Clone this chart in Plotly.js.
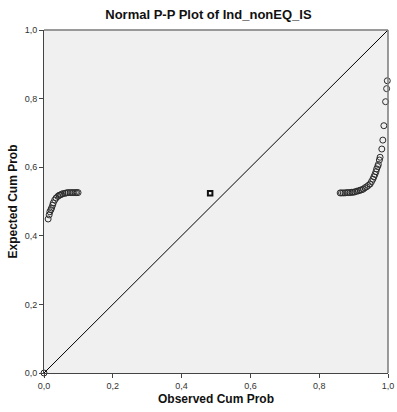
<!DOCTYPE html>
<html><head><meta charset="utf-8">
<script src="https://cdn.plot.ly/plotly-3.0.1.min.js"></script>
<style>html,body{margin:0;padding:0;background:#fff}#chart{width:397px;height:412px}</style>
</head><body><div id="chart"></div>
<script>
// Observed cumulative probability (x) and expected cumulative probability (y)
const obsLeft = [0.000, 0.012, 0.015, 0.017, 0.020, 0.022, 0.025, 0.027, 0.031, 0.035, 0.040, 0.044, 0.047, 0.051, 0.055, 0.061, 0.065, 0.070, 0.076, 0.081, 0.086, 0.091, 0.095, 0.099];
const expLeft = [0.000, 0.449, 0.461, 0.470, 0.476, 0.481, 0.489, 0.496, 0.504, 0.510, 0.515, 0.518, 0.519, 0.521, 0.523, 0.524, 0.525, 0.526, 0.526, 0.526, 0.526, 0.526, 0.526, 0.526];
const obsMid = [0.483];
const expMid = [0.524];
const obsRight = [0.861, 0.865, 0.870, 0.875, 0.880, 0.885, 0.890, 0.895, 0.899, 0.904, 0.909, 0.914, 0.919, 0.923, 0.928, 0.933, 0.938, 0.943, 0.948, 0.952, 0.956, 0.959, 0.962, 0.965, 0.967, 0.970, 0.972, 0.975, 0.977, 0.982, 0.985, 0.988, 0.993, 0.996, 0.998];
const expRight = [0.525, 0.525, 0.525, 0.525, 0.526, 0.526, 0.526, 0.527, 0.527, 0.528, 0.530, 0.531, 0.533, 0.534, 0.536, 0.540, 0.543, 0.547, 0.551, 0.558, 0.565, 0.572, 0.579, 0.587, 0.595, 0.602, 0.608, 0.621, 0.629, 0.653, 0.679, 0.721, 0.791, 0.829, 0.852];
const refLineX = [0, 1];
const refLineY = [0, 1];
const tickVals = [0, 0.2, 0.4, 0.6, 0.8, 1.0];

const markerCircle = {symbol: 'circle-open', size: 6, color: '#2b2b2b', line: {width: 1, color: '#2b2b2b'}};
const traces = [
  {x: refLineX, y: refLineY, mode: 'lines', line: {color: '#000', width: 1}, hoverinfo: 'skip', cliponaxis: false},
  {x: obsLeft, y: expLeft, mode: 'markers', marker: markerCircle, cliponaxis: false},
  {x: obsMid, y: expMid, mode: 'markers', marker: {symbol: 'square-open', size: 4.5, color: '#111', line: {width: 2, color: '#111'}}},
  {x: obsRight, y: expRight, mode: 'markers', marker: markerCircle, cliponaxis: false}
];

const axisCommon = {
  range: [0, 1], tickvals: tickVals, tickformat: '.1f',
  ticks: 'outside', ticklen: 4, tickwidth: 1, tickcolor: '#444',
  showgrid: false, zeroline: false, showline: true, linecolor: '#444', linewidth: 1,
  tickfont: {family: 'Liberation Sans, Arial, sans-serif', size: 9, color: '#333'},
  fixedrange: true
};

const layout = {
  width: 397, height: 412,
  margin: {l: 44, r: 9, t: 30, b: 39},
  paper_bgcolor: '#fff', plot_bgcolor: '#f0f0f0',
  separators: ',.',
  showlegend: false,
  title: {text: '<b>Normal P-P Plot of Ind_nonEQ_IS</b>', x: 0.525, xanchor: 'center', y: 0.965, yanchor: 'middle',
    font: {family: 'Liberation Sans, Arial, sans-serif', size: 13, color: '#111'}},
  xaxis: Object.assign({}, axisCommon, {
    title: {text: '<b>Observed Cum Prob</b>', standoff: 4, font: {family: 'Liberation Sans, Arial, sans-serif', size: 12, color: '#111'}}
  }),
  yaxis: Object.assign({}, axisCommon, {
    title: {text: '<b>Expected Cum Prob</b>', standoff: 4, font: {family: 'Liberation Sans, Arial, sans-serif', size: 12, color: '#111'}}
  }),
  shapes: [
    {type: 'line', xref: 'paper', yref: 'paper', x0: 0, x1: 1, y0: 1, y1: 1, line: {color: '#7a7a7a', width: 1.5}},
    {type: 'line', xref: 'paper', yref: 'paper', x0: 1, x1: 1, y0: 0, y1: 1, line: {color: '#7a7a7a', width: 1.5}}
  ]
};

Plotly.newPlot('chart', traces, layout, {displayModeBar: false, staticPlot: true});
</script>
</body></html>
